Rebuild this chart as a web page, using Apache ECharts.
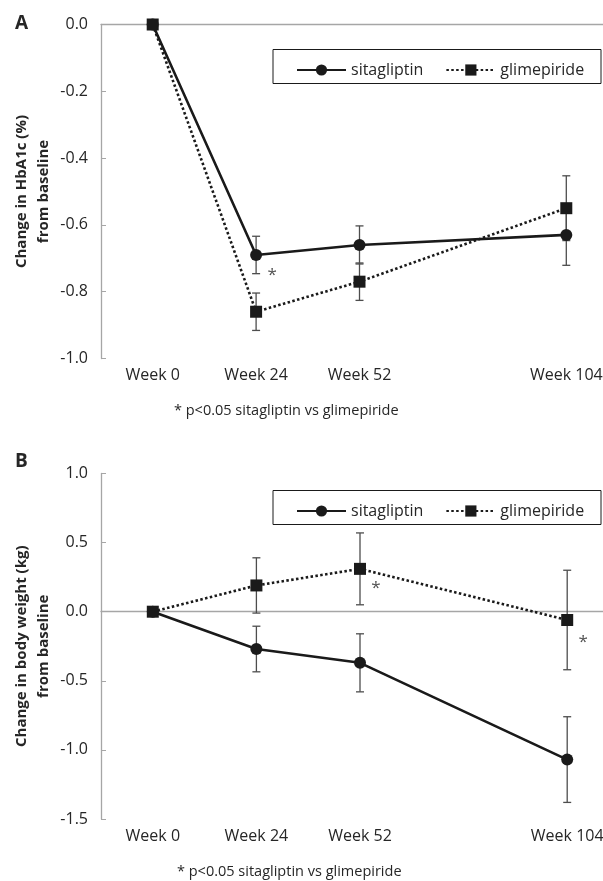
<!DOCTYPE html>
<html>
<head>
<meta charset="utf-8">
<script src="https://cdn.jsdelivr.net/npm/echarts@6/dist/echarts.min.js"></script>
<style>
html,body{margin:0;padding:0;background:#fff;}
#chart{width:603px;height:881px;}
</style>
</head>
<body>
<div id="chart"></div>
<script>
// ---- data ----
const weeks = ['Week 0', 'Week 24', 'Week 52', '', 'Week 104'];

const hba1cSita = [0, -0.69, -0.66, null, -0.63];
const hba1cSitaErr = [0, 0.056, 0.057, null, 0.091];
const hba1cGlim = [0, -0.86, -0.77, null, -0.55];
const hba1cGlimErr = [0, 0.056, 0.056, null, 0.097];
const hba1cSig = [[1, -0.74]];

const weightSita = [0, -0.27, -0.37, null, -1.07];
const weightSitaErr = [0, 0.165, 0.21, null, 0.31];
const weightGlim = [0, 0.19, 0.31, null, -0.06];
const weightGlimErr = [0, 0.2, 0.26, null, 0.36];
const weightSig = [[2, 0.19], [4, -0.2]];

const hba1cTicks = { min: -1.0, max: 0.0, interval: 0.2 };
const weightTicks = { min: -1.5, max: 1.0, interval: 0.5 };

const footnote = '* p<0.05 sitagliptin vs glimepiride';

// ---- helpers ----
const FONT = '"Open Sans", "Noto Sans", sans-serif';
const TEXT = '#262626';
const AXIS = '#a6a6a6';

function errData(vals, errs) {
  const out = [];
  vals.forEach((v, i) => { if (v !== null && errs[i]) out.push([i, v - errs[i], v + errs[i]]); });
  return out;
}
function errSeries(xi, yi, vals, errs) {
  return {
    type: 'custom', xAxisIndex: xi, yAxisIndex: yi, z: 1, silent: true,
    data: errData(vals, errs),
    renderItem: function (params, api) {
      const lo = api.coord([api.value(0), api.value(1)]);
      const hi = api.coord([api.value(0), api.value(2)]);
      const w = 4;
      const st = { stroke: '#4d4d4d', lineWidth: 1.3 };
      return { type: 'group', children: [
        { type: 'line', shape: { x1: lo[0], y1: lo[1], x2: hi[0], y2: hi[1] }, style: st },
        { type: 'line', shape: { x1: lo[0] - w, y1: lo[1], x2: lo[0] + w, y2: lo[1] }, style: st },
        { type: 'line', shape: { x1: hi[0] - w, y1: hi[1], x2: hi[0] + w, y2: hi[1] }, style: st }
      ]};
    }
  };
}
function sitaSeries(xi, yi, vals) {
  return {
    name: 'sitagliptin', type: 'line', xAxisIndex: xi, yAxisIndex: yi, z: 3,
    data: vals, connectNulls: true, symbol: 'circle', symbolSize: 12,
    itemStyle: { color: '#1a1a1a' },
    lineStyle: { color: '#1a1a1a', width: 2.6, type: 'solid' }
  };
}
function glimSeries(xi, yi, vals) {
  return {
    name: 'glimepiride', type: 'line', xAxisIndex: xi, yAxisIndex: yi, z: 4,
    data: vals, connectNulls: true, symbol: 'rect', symbolSize: 12,
    itemStyle: { color: '#1a1a1a' },
    lineStyle: { color: '#1a1a1a', width: 2.6, type: [2.5, 2.4] }
  };
}
function sigSeries(xi, yi, pts) {
  return {
    type: 'scatter', xAxisIndex: xi, yAxisIndex: yi, z: 5, silent: true,
    data: pts, symbolSize: 1, itemStyle: { color: 'transparent' },
    label: { show: true, formatter: '*', position: 'inside', offset: [16, 3],
      fontFamily: FONT, fontSize: 17, color: TEXT }
  };
}
function xAxisDef(gi) {
  return {
    type: 'category', gridIndex: gi, data: weeks, boundaryGap: true,
    axisTick: { show: false },
    axisLine: { lineStyle: { color: AXIS, width: 1.3 } },
    axisLabel: { interval: 0, fontFamily: FONT, fontSize: 16, color: TEXT, margin: 9 }
  };
}
function yAxisDef(gi, t, name) {
  return {
    type: 'value', gridIndex: gi, min: t.min, max: t.max, interval: t.interval,
    splitLine: { show: false },
    axisLine: { show: true, lineStyle: { color: AXIS, width: 1.3 } },
    axisTick: { show: true, inside: true, length: 5, lineStyle: { color: AXIS } },
    axisLabel: { fontFamily: FONT, fontSize: 16, color: TEXT, margin: 13,
      formatter: v => (Math.abs(v) < 1e-9 ? 0 : v).toFixed(1) },
    name: name, nameLocation: 'middle', nameRotate: 90, nameGap: 46, nameMoveOverlap: false,
    nameTextStyle: { fontFamily: FONT, fontSize: 15, fontWeight: 'bold', color: TEXT, lineHeight: 22 }
  };
}
function legendDef(top) {
  return {
    left: 291, top: top, itemWidth: 49, itemHeight: 14, itemGap: 22,
    data: ['sitagliptin', 'glimepiride'],
    textStyle: { fontFamily: FONT, fontSize: 16, color: TEXT }
  };
}

const chart = echarts.init(document.getElementById('chart'));
chart.setOption({
  animation: false,
  backgroundColor: '#ffffff',
  title: [
    { text: 'A', left: 10, top: 9, textStyle: { fontFamily: FONT, fontSize: 19, fontWeight: 'bold', color: TEXT } },
    { text: 'B', left: 10, top: 447, textStyle: { fontFamily: FONT, fontSize: 19, fontWeight: 'bold', color: TEXT } },
    { text: footnote, left: 169, top: 398, textStyle: { fontFamily: FONT, fontSize: 14.5, fontWeight: 'normal', color: TEXT } },
    { text: footnote, left: 172, top: 859, textStyle: { fontFamily: FONT, fontSize: 14.5, fontWeight: 'normal', color: TEXT } }
  ],
  graphic: [
    { type: 'rect', shape: { x: 273, y: 49.5, width: 328, height: 34 }, style: { fill: '#fff', stroke: '#1a1a1a', lineWidth: 1 }, z: 0 },
    { type: 'rect', shape: { x: 273, y: 490.5, width: 328, height: 34 }, style: { fill: '#fff', stroke: '#1a1a1a', lineWidth: 1 }, z: 0 }
  ],
  legend: [legendDef(57), legendDef(498)],
  grid: [
    { left: 101, top: 24.5, width: 517, height: 334, outerBoundsMode: 'none' },
    { left: 101, top: 473.5, width: 518, height: 345.5, outerBoundsMode: 'none' }
  ],
  xAxis: [xAxisDef(0), xAxisDef(1)],
  yAxis: [
    yAxisDef(0, hba1cTicks, 'Change in HbA1c (%)\nfrom baseline'),
    yAxisDef(1, weightTicks, 'Change in body weight (kg)\nfrom baseline')
  ],
  series: [
    errSeries(0, 0, hba1cSita, hba1cSitaErr),
    errSeries(0, 0, hba1cGlim, hba1cGlimErr),
    sitaSeries(0, 0, hba1cSita),
    glimSeries(0, 0, hba1cGlim),
    sigSeries(0, 0, hba1cSig),
    errSeries(1, 1, weightSita, weightSitaErr),
    errSeries(1, 1, weightGlim, weightGlimErr),
    sitaSeries(1, 1, weightSita),
    glimSeries(1, 1, weightGlim),
    sigSeries(1, 1, weightSig)
  ]
});
</script>
</body>
</html>
